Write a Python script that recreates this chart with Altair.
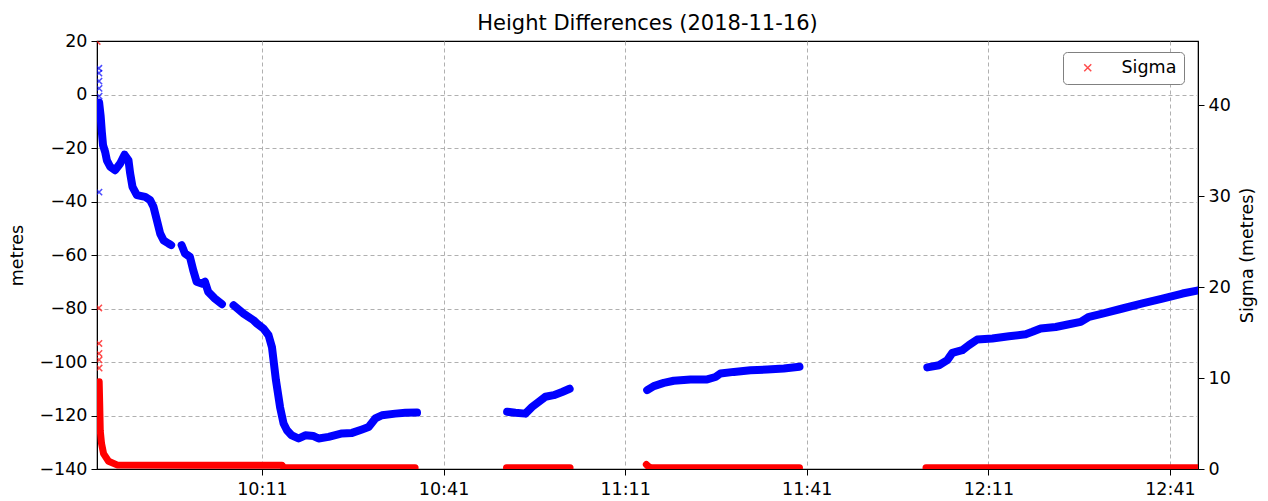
import altair as alt
import pandas as pd

BASE = pd.Timestamp("2018-11-16 09:00:00")

# ---- Height differences (metres); time = minutes after 09:00 ----
h_a_t = [44.10, 44.35, 44.55, 44.75, 45.10, 45.38, 45.93, 46.75, 47.58, 48.30, 48.95, 49.23,
         49.61, 50.34, 51.71, 52.54, 53.08, 53.64, 54.19, 54.74, 55.56, 56.00]
h_a_v = [-3.0, -8.0, -14.0, -19.0, -21.5, -24.6, -27.0, -28.3, -25.8, -22.5, -24.6, -29.5,
         -34.5, -37.6, -38.3, -39.5, -42.0, -47.0, -52.0, -54.5, -55.7, -56.3]
h_b_t = [57.73, 58.27, 59.10, 59.65, 60.21, 61.04, 61.58, 62.13, 63.23, 64.39]
h_b_v = [-56.3, -59.4, -60.7, -65.7, -70.0, -70.7, -70.0, -73.8, -76.3, -78.4]
h_c_t = [66.31, 67.96, 69.61, 70.17, 71.26, 72.09, 72.65, 73.31, 74.00, 74.57, 75.13, 75.85,
         77.05, 78.16, 79.53, 80.36, 82.01, 84.22, 85.88, 87.53, 88.62, 89.73, 90.83, 93.03,
         94.69, 96.62]
h_c_v = [-78.8, -81.9, -84.4, -85.6, -87.5, -90.0, -94.4, -106.8, -117.0, -123.0, -125.5, -127.3,
         -128.6, -127.4, -127.7, -128.6, -128.0, -126.7, -126.5, -125.2, -124.3, -121.1, -119.9, -119.3,
         -119.0, -118.9]
h_d_t = [111.50, 112.87, 114.52, 115.63, 116.72, 117.83, 119.20, 120.59, 121.83]
h_d_v = [-118.6, -119.0, -119.3, -116.8, -114.9, -113.0, -112.4, -111.2, -110.0]
h_e_t = [134.64, 135.73, 137.38, 139.03, 141.79, 144.55, 145.92, 146.74, 148.95, 151.70,
         154.47, 157.21, 159.80]
h_e_v = [-110.5, -109.0, -107.8, -107.0, -106.5, -106.5, -105.6, -104.3, -103.7, -103.1,
         -102.8, -102.4, -101.8]
h_f_t = [180.92, 182.84, 184.22, 185.05, 186.69, 187.79, 189.17, 191.66, 194.41, 197.17,
         198.27, 199.64, 202.12, 204.32, 206.26, 207.64, 209.85, 213.15, 216.46, 219.76,
         223.07, 225.27, 225.70]
h_f_v = [-102.0, -101.2, -99.3, -96.6, -95.6, -93.7, -91.6, -91.2, -90.4, -89.6,
         -88.7, -87.5, -86.9, -85.9, -85.0, -83.1, -81.9, -80.0, -78.1, -76.3,
         -74.4, -73.4, -73.2]
# isolated early height points
h_out_t = [44.06, 44.07, 44.08, 44.09, 44.10, 44.08]
h_out_v = [9.8, 8.0, 5.0, 2.3, -0.6, -36.5]

# ---- Sigma (metres) ----
s_1_t = [44.11, 44.20, 44.29, 44.50, 44.83, 45.66, 47.05, 60.00, 74.30, 74.60, 96.30]
s_1_v = [9.6, 7.0, 4.2, 2.8, 1.7, 0.85, 0.45, 0.42, 0.42, 0.15, 0.15]
s_2_t = [111.40, 121.90]
s_2_v = [0.15, 0.15]
s_3_t = [134.50, 134.80, 135.20, 159.80]
s_3_v = [0.50, 0.30, 0.15, 0.15]
s_4_t = [180.70, 225.70]
s_4_v = [0.15, 0.15]
s_out_t = [43.78, 44.05, 44.07, 44.08, 44.09, 44.10]
s_out_v = [47.0, 17.7, 13.8, 12.7, 12.0, 11.1]


def frame(segs, col):
    rows = []
    for name, ts, vs in segs:
        for t, v in zip(ts, vs):
            rows.append({"seg": name, "time": BASE + pd.Timedelta(minutes=t), col: v})
    return pd.DataFrame(rows)


height_df = frame([("a", h_a_t, h_a_v), ("b", h_b_t, h_b_v), ("c", h_c_t, h_c_v),
                   ("d", h_d_t, h_d_v), ("e", h_e_t, h_e_v), ("f", h_f_t, h_f_v)], "height")
height_out = frame([("o", h_out_t, h_out_v)], "height")
sigma_df = frame([("1", s_1_t, s_1_v), ("2", s_2_t, s_2_v), ("3", s_3_t, s_3_v),
                  ("4", s_4_t, s_4_v)], "sigma")
sigma_out = frame([("o", s_out_t, s_out_v)], "sigma")
sigma_out["series"] = "Sigma"

XPATH = "M-1,-1L1,1M-1,1L1,-1"


def dt(h, m, s=0):
    return alt.DateTime(year=2018, month=11, date=16, hours=h, minutes=m, seconds=s)


x_ticks = [dt(10, 11), dt(10, 41), dt(11, 11), dt(11, 41), dt(12, 11), dt(12, 41)]
x_enc = alt.X("time:T",
              scale=alt.Scale(domain=[dt(9, 43, 45), dt(12, 45, 38)], nice=False),
              axis=alt.Axis(values=x_ticks, format="%H:%M", title=None, grid=True,
                            tickSize=6, labelPadding=5, labelFlush=False))

y_left = alt.Y("height:Q",
               scale=alt.Scale(domain=[-140, 20], nice=False, zero=False),
               axis=alt.Axis(values=list(range(-140, 21, 20)), title="metres", grid=True,
                             gridOpacity=alt.condition("datum.value >= 20", alt.value(0), alt.value(1)),
                             tickSize=6, labelPadding=4, titlePadding=12))
y_right = alt.Y("sigma:Q",
                scale=alt.Scale(domain=[0, 47.05], nice=False),
                axis=alt.Axis(values=[0, 10, 20, 30, 40], title="Sigma (metres)", orient="right",
                              grid=False, tickSize=6, labelPadding=4, titlePadding=26,
                              titleAngle=270))

blue_line = alt.Chart(height_df).mark_line(
    color="#0000ff", strokeWidth=8, strokeCap="round", strokeJoin="round", clip=True
).encode(x=x_enc, y=y_left, detail="seg:N")
blue_pts = alt.Chart(height_out).mark_point(
    shape=XPATH, filled=False, color="#0000ff", strokeWidth=1.5, size=40, clip=True
).encode(x=x_enc, y=y_left)

red_line = alt.Chart(sigma_df).mark_line(
    color="#ff0000", strokeWidth=7, strokeCap="round", strokeJoin="round", clip=True
).encode(x=x_enc, y=y_right, detail="seg:N")
red_pts = alt.Chart(sigma_out).mark_point(
    shape=XPATH, filled=False, strokeWidth=1.5, size=40, clip=True
).encode(
    x=x_enc, y=y_right,
    color=alt.Color("series:N", scale=alt.Scale(domain=["Sigma"], range=["#ff0000"]),
                    legend=alt.Legend(title=None, orient="none", legendX=966, legendY=11,
                                      symbolType=XPATH, symbolSize=49, symbolStrokeWidth=1.5,
                                      symbolStrokeColor="#ff0000", symbolOffset=9,
                                      labelOffset=25, labelFontSize=17.5, labelColor="black",
                                      padding=7, strokeColor="#808080", fillColor="white",
                                      cornerRadius=4)),
)

left = alt.layer(blue_line, blue_pts)
right = alt.layer(red_line, red_pts)

chart = alt.layer(left, right).resolve_scale(y="independent").properties(
    width=1101, height=428,
    autosize="none",
    padding={"left": 89, "top": 33, "right": 62, "bottom": 30},
    title=alt.TitleParams("Height Differences (2018-11-16)", fontSize=21, font="DejaVu Sans",
                          fontWeight="normal", color="black", offset=-2),
).configure(font="DejaVu Sans").configure_axis(
    labelFont="DejaVu Sans", titleFont="DejaVu Sans", labelFontSize=17.5, titleFontSize=17.5,
    labelColor="black", titleColor="black", titleFontWeight="normal",
    domainColor="black", tickColor="black", gridColor="#b0b0b0", gridDash=[4, 3], gridWidth=1
).configure_view(stroke="black", strokeWidth=1.2)

chart.save("out.html", embed_options={"renderer": "svg", "actions": False})
